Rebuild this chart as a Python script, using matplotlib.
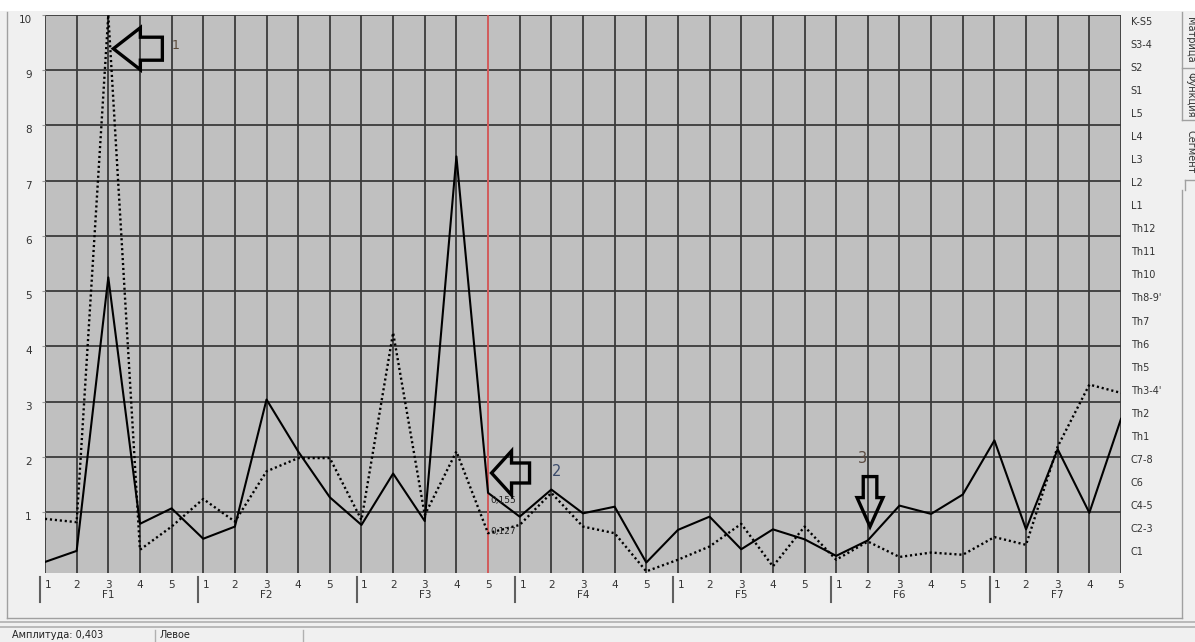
import numpy as np
import matplotlib.pyplot as plt
from matplotlib.patches import Polygon, Rectangle
from matplotlib.lines import Line2D
from matplotlib.transforms import IdentityTransform, ScaledTranslation, blended_transform_factory

# данные
groups = ['F1', 'F2', 'F3', 'F4', 'F5', 'F6', 'F7']
points = ['1', '2', '3', '4', '5']

solid = [0.10, 0.30, 5.25, 0.79, 1.07,
         0.52, 0.74, 3.04, 2.10, 1.27,
         0.77, 1.70, 0.84, 7.44, 1.35,
         0.92, 1.41, 0.98, 1.10, 0.09,
         0.68, 0.92, 0.33, 0.69, 0.51,
         0.21, 0.49, 1.12, 0.97, 1.32,
         2.30, 0.69, 2.14, 0.99, 2.69]

dotted = [0.88, 0.82, 10.0, 0.32, 0.74,
          1.24, 0.83, 1.74, 1.98, 1.98,
          0.86, 4.25, 0.95, 2.10, 0.62,
          0.77, 1.35, 0.74, 0.62, -0.07,
          0.14, 0.38, 0.79, 0.02, 0.74,
          0.14, 0.47, 0.19, 0.27, 0.23,
          0.55, 0.41, 2.19, 3.31, 3.16]

vert_labels = ['C1', 'C2-3', 'C4-5', 'C6', 'C7-8', 'Th1', 'Th2', "Th3-4'",
               'Th5', 'Th6', 'Th7', "Th8-9'", 'Th10', 'Th11', 'Th12',
               'L1', 'L2', 'L3', 'L4', 'L5', 'S1', 'S2', 'S3-4', 'K-S5']

marker_idx = 14      # красная линия (F3-5)
amplitude = '0,403'

plt.rcParams['font.family'] = ['DejaVu Sans']
W, H = 1195, 642
fig = plt.figure(figsize=(W / 100, H / 100), dpi=100)
fig.patch.set_facecolor('#f0f0f0')

def fx(px):
    return px / W

def fy(py):
    return 1 - py / H

# белая полоса сверху
fig.add_artist(Rectangle((0, fy(11)), 1, 11 / H, transform=fig.transFigure,
                         facecolor='white', edgecolor='none'))

ax_h = 573 - 15
ax = fig.add_axes([fx(45), fy(573), fx(1121 - 45), ax_h / H])
ax.set_facecolor('#c0c0c0')
n = len(solid)
x = np.arange(n)
ax.set_xlim(0, n - 1)
ax.set_ylim(-0.1, 10)

# сетка
for i in x:
    ax.axvline(i, color='#3a3a3a', lw=1.3, zorder=1)
for v in range(1, 11):
    ax.axhline(v, color='#3a3a3a', lw=1.3, zorder=1)
ax.axvline(marker_idx, color='#e06060', lw=1.3, zorder=2)

for s in ['top', 'right', 'bottom', 'left']:
    ax.spines[s].set_visible(False)

ax.plot(x, solid, color='black', lw=1.5, zorder=4)
ax.plot(x, dotted, color='black', lw=1.7, linestyle=(0, (0.9, 1.2)), zorder=3)

# оси
ax.set_yticks(range(1, 11))
ax.set_yticklabels([str(v) for v in range(1, 11)])
ax.tick_params(axis='y', length=2.5, color='#999999', pad=7, labelsize=7.5,
               labelcolor='#333333')
for t in ax.get_yticklabels():
    t.set_va('top')

xt_labels = []
for g in groups:
    for p in points:
        xt_labels.append(p + '\n' + g if p == '3' else p)
ax.set_xticks(x)
ax.set_xticklabels(xt_labels, linespacing=1.0)
ax.tick_params(axis='x', length=0, pad=5, labelsize=7.5, labelcolor='#333333')
shift = ScaledTranslation(3 / 100, 0, fig.dpi_scale_trans)
for t, lab in zip(ax.get_xticklabels(), xt_labels):
    t.set_va('top')
    if lab == '1':
        t.set_transform(t.get_transform() + shift)

# разделители групп
btr = blended_transform_factory(ax.transData, ax.transAxes)
for k in range(len(groups)):
    gx = k * len(points) - 0.15
    ax.add_line(Line2D([gx, gx], [-4 / ax_h, -29 / ax_h], transform=btr,
                       color='#606060', lw=1.5, clip_on=False))

# правая шкала сегментов
ax2 = ax.twinx()
ax2.set_ylim(ax.get_ylim())
ax2.set_yticks(0.30 + 0.417 * np.arange(len(vert_labels)))
ax2.set_yticklabels(vert_labels)
ax2.tick_params(axis='y', length=0, pad=7, labelsize=7, labelcolor='#333333')
for s in ['top', 'right', 'bottom', 'left']:
    ax2.spines[s].set_visible(False)

# подписи значений
ax.text(14.06, 1.22, '0,155', fontsize=6.5, color='#222222', ha='left', va='center', zorder=5)
ax.text(14.06, 0.65, '0,127', fontsize=6.5, color='#222222', ha='left', va='center', zorder=5)


def block_arrow(xd, yd, head_len, head_half, body_len, body_half, direction):
    tx, ty = ax.transData.transform((xd, yd))
    if direction == 'left':
        pts = [(0, 0), (head_len, head_half), (head_len, body_half),
               (body_len, body_half), (body_len, -body_half),
               (head_len, -body_half), (head_len, -head_half)]
    else:
        pts = [(0, 0), (head_half, head_len), (body_half, head_len),
               (body_half, body_len), (-body_half, body_len),
               (-body_half, head_len), (-head_half, head_len)]
    pts = [(tx + a, ty + b) for a, b in pts]
    fig.add_artist(Polygon(pts, closed=True, transform=IdentityTransform(),
                           facecolor='none', edgecolor='black', lw=2.4,
                           joinstyle='miter', zorder=6))


block_arrow(2.16, 9.39, 27, 21, 49, 11.5, 'left')
block_arrow(14.11, 1.71, 20, 22, 38, 10, 'left')
block_arrow(26.07, 0.74, 29, 13, 50, 6.8, 'down')

ax.text(4.14, 9.45, '1', fontsize=9, color='#5a4a3a', ha='center', va='center', zorder=6)
ax.text(16.17, 1.74, '2', fontsize=10.5, color='#3a4a6a', ha='center', va='center', zorder=6)
ax.text(25.84, 1.98, '3', fontsize=10.5, color='#5a4a40', ha='center', va='center', zorder=6)

# рамка панели и строка состояния
def fline(x0, y0, x1, y1, color='#a0a0a0', lw=1.0):
    fig.add_artist(Line2D([fx(x0), fx(x1)], [fy(y0), fy(y1)],
                          transform=fig.transFigure, color=color, lw=lw))

fline(7, 12, 7, 618)
fline(7, 618, 1182, 618)
fline(1182, 190, 1182, 618)
fline(1182, 12, 1182, 120)
fline(1182, 68, 1195, 68)
fline(1182, 120, 1195, 120)
fline(1185, 180, 1195, 180)
fline(1185, 180, 1185, 190)
fline(0, 622, W, 622, '#b0b0b0', 1.2)
fline(0, 627, W, 627, '#b0b0b0', 1.2)
fline(155, 630, 155, 642, '#b0b0b0')
fline(303, 630, 303, 642, '#b0b0b0')

fig.text(fx(12), fy(635), 'Амплитуда: ' + amplitude, fontsize=7, color='#222222',
         ha='left', va='center')
fig.text(fx(160), fy(635), 'Левое', fontsize=7, color='#222222', ha='left', va='center')

for label, yc in [('Матрица', 40), ('Функция', 95), ('Сегмент', 152)]:
    fig.text(fx(1190), fy(yc), label, fontsize=7, color='#333333', rotation=270,
             ha='center', va='center')

fig.savefig('out.png', dpi=100, facecolor=fig.get_facecolor())
